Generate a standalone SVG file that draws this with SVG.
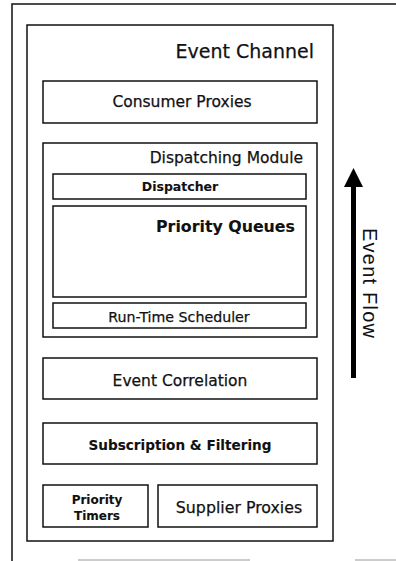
<svg xmlns="http://www.w3.org/2000/svg" width="396" height="561" viewBox="0 0 396 561">
  <style>
    .box { fill: #fff; stroke: #111; stroke-width: 1.5; }
    .lbl { font-family: "DejaVu Sans", Verdana, sans-serif; fill: #111; stroke: #111; stroke-width: 0.25; text-anchor: middle; }
    .b { font-weight: bold; stroke-width: 0.1; }
  </style>
  <rect width="396" height="561" fill="#fff"/>

  <!-- page frame -->
  <g id="frame" fill="none">
    <path d="M12 561 V4 H396" stroke="#111" stroke-width="1.5"/>
    <path d="M78 560 H250 M355 560 H396" stroke="#999" stroke-width="1"/>
  </g>

  <g id="event-channel">
    <rect class="box" x="27" y="25" width="306" height="516"/>
    <text class="lbl" x="314" y="58" font-size="19" style="text-anchor:end">Event Channel</text>
  </g>

  <g id="consumer-proxies">
    <rect class="box" x="43" y="81" width="274" height="42"/>
    <text class="lbl" x="182" y="107" font-size="15.5">Consumer Proxies</text>
  </g>

  <g id="dispatching-module">
    <rect class="box" x="43" y="143" width="274" height="194"/>
    <text class="lbl" x="303" y="163" font-size="15.5" style="text-anchor:end">Dispatching Module</text>
  </g>

  <g id="dispatcher">
    <rect class="box" x="53" y="174" width="253" height="25"/>
    <text class="lbl b" x="180" y="191" font-size="12.5">Dispatcher</text>
  </g>

  <g id="priority-queues">
    <rect class="box" x="53" y="206" width="253" height="91"/>
    <text class="lbl b" x="295" y="232" font-size="15.8" style="text-anchor:end">Priority Queues</text>
  </g>

  <g id="run-time-scheduler">
    <rect class="box" x="53" y="303" width="253" height="25"/>
    <text class="lbl" x="179" y="322" font-size="14.2">Run-Time Scheduler</text>
  </g>

  <g id="event-correlation">
    <rect class="box" x="43" y="358" width="274" height="41"/>
    <text class="lbl" x="180" y="386" font-size="15.5">Event Correlation</text>
  </g>

  <g id="subscription-filtering">
    <rect class="box" x="43" y="423" width="274" height="41"/>
    <text class="lbl b" x="180" y="450" font-size="13.6">Subscription &amp; Filtering</text>
  </g>

  <g id="priority-timers">
    <rect class="box" x="43" y="485" width="105" height="42"/>
    <text class="lbl b" x="97" y="504" font-size="12">Priority</text>
    <text class="lbl b" x="97" y="520" font-size="12">Timers</text>
  </g>

  <g id="supplier-proxies">
    <rect class="box" x="158" y="485" width="159" height="42"/>
    <text class="lbl" x="239" y="513" font-size="15.8">Supplier Proxies</text>
  </g>

  <!-- event flow indicator -->
  <g id="connectors">
    <rect x="351" y="185" width="5" height="193" fill="#000"/>
    <polygon points="353.5,168 344,187 363,187" fill="#000"/>
    <text transform="translate(363,228) rotate(90)" font-family="Liberation Sans, Arial, sans-serif" font-size="20" fill="#111" textLength="110">Event Flow</text>
  </g>
</svg>
